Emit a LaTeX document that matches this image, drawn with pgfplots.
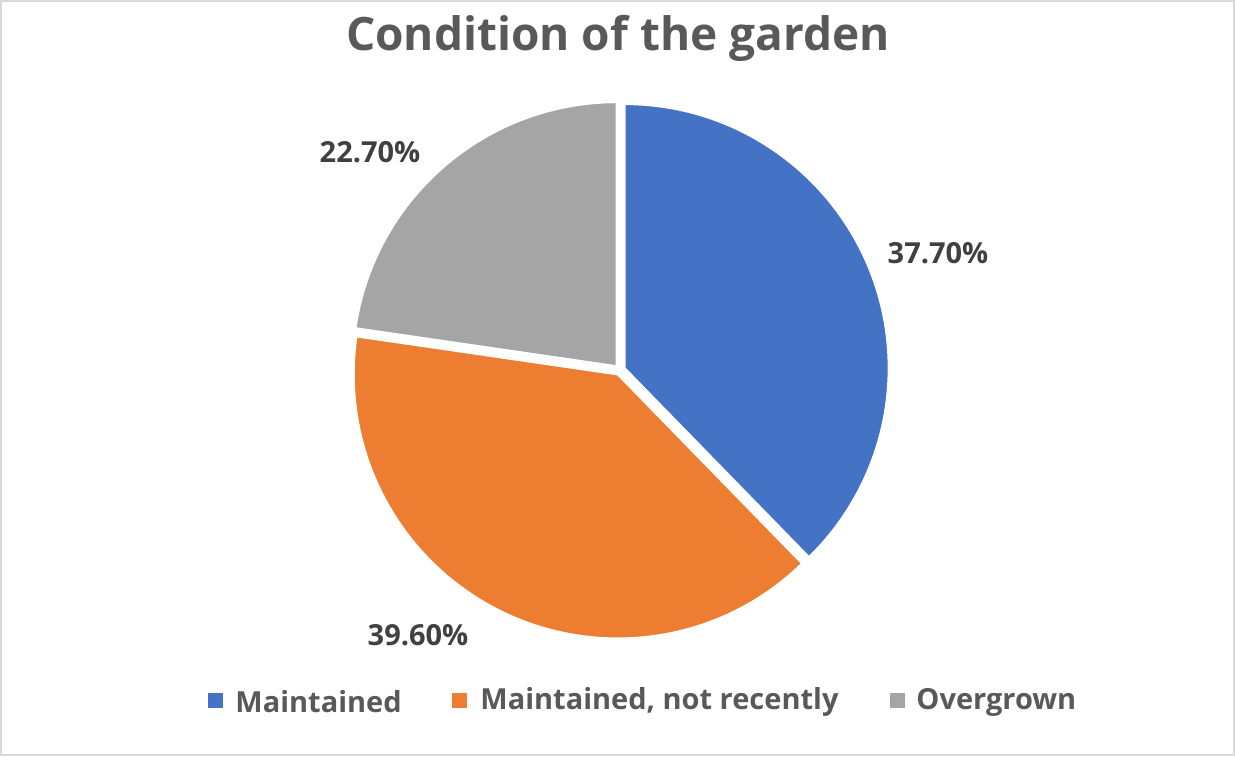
\documentclass[border=0pt]{standalone}
\usepackage{pgfplots}
\pgfplotsset{compat=1.18}
\usepackage{pgfplotstable}
\usepackage{fontspec}
\setmainfont{Open Sans}
\definecolor{cblue}{HTML}{4472C4}
\definecolor{corange}{HTML}{ED7D31}
\definecolor{cgray}{HTML}{A5A5A5}
\definecolor{ctitle}{HTML}{595959}
\definecolor{clabel}{HTML}{404040}
\definecolor{cborder}{HTML}{D9D9D9}

\pgfplotstableread{
value
37.7
39.6
22.7
}\piedata

\newcommand\pieslice[3]{%
  \pgfmathsetmacro\midang{(#1+#2)/2}%
  \pgfmathsetmacro\cx{620+5*cos(\midang)}%
  \pgfmathsetmacro\cy{386+5*sin(\midang)}%
  \edef\tmp{\noexpand\fill[#3,draw=white,line width=1pt] (axis cs:\cx,\cy) -- ++(#1:132pt) arc[start angle=#1, end angle=#2, radius=132pt] -- cycle;}%
  \tmp}

\begin{document}
\begin{tikzpicture}
\pgfplotstablegetelem{0}{value}\of\piedata \let\vA\pgfplotsretval
\pgfplotstablegetelem{1}{value}\of\piedata \let\vB\pgfplotsretval
\pgfplotstablegetelem{2}{value}\of\piedata \let\vC\pgfplotsretval
\pgfmathsetmacro\aA{90}
\pgfmathsetmacro\aB{90-3.6*\vA}
\pgfmathsetmacro\aC{\aB-3.6*\vB}
\pgfmathsetmacro\aD{\aC-3.6*\vC}
\begin{axis}[
  x=0.5pt, y=0.5pt,
  xmin=0, xmax=1235, ymin=0, ymax=756,
  hide axis, clip=false,
]
\addplot[draw=none] coordinates {(0,0) (1235,756)};
\draw[cborder, line width=0.75pt] (axis cs:1,1) rectangle (axis cs:1234,755);
\pieslice{\aA}{\aB}{cblue}
\pieslice{\aB}{\aC}{corange}
\pieslice{\aC}{\aD}{cgray}
\node[font=\bfseries\fontsize{23}{28}\selectfont, text=ctitle] at (axis cs:618,718) {Condition of the garden};
\node[font=\bfseries\fontsize{14.5}{17}\selectfont, text=clabel] at (axis cs:938,503) {37.70\%};
\node[font=\bfseries\fontsize{14.5}{17}\selectfont, text=clabel] at (axis cs:370,604) {22.70\%};
\node[font=\bfseries\fontsize{14.5}{17}\selectfont, text=clabel] at (axis cs:418,121) {39.60\%};
\fill[cblue] (axis cs:208,48) rectangle (axis cs:223,63);
\node[anchor=west, font=\bfseries\fontsize{14.5}{17}\selectfont, text=ctitle, inner sep=0pt] at (axis cs:235,54) {Maintained};
\fill[corange] (axis cs:452,48) rectangle (axis cs:467,63);
\node[anchor=west, font=\bfseries\fontsize{14.5}{17}\selectfont, text=ctitle, inner sep=0pt] at (axis cs:480,54) {Maintained, not recently};
\fill[cgray] (axis cs:890,48) rectangle (axis cs:905,63);
\node[anchor=west, font=\bfseries\fontsize{14.5}{17}\selectfont, text=ctitle, inner sep=0pt] at (axis cs:916,54) {Overgrown};
\end{axis}
\end{tikzpicture}
\end{document}
